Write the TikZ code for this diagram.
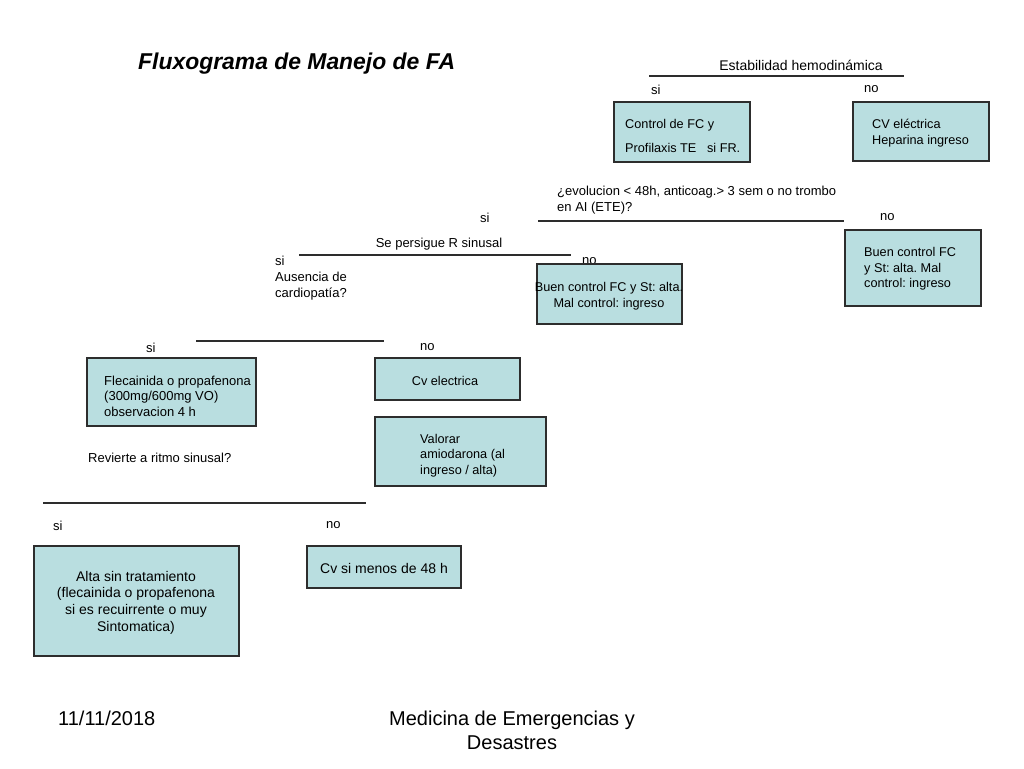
\documentclass[tikz,border=0pt]{standalone}
\usepackage{fontspec}
\setmainfont{Liberation Sans}
\frenchspacing
\definecolor{boxfill}{RGB}{185,222,224}
\definecolor{linecol}{RGB}{45,45,45}
\tikzset{
  box/.style={draw=linecol, line width=1.2pt, fill=boxfill, inner sep=0pt},
  txt/.style={inner sep=0pt, font=\fontsize{13}{15.5}\selectfont, align=left},
  stxt/.style={inner sep=0pt, font=\fontsize{12.7}{15.5}\selectfont, align=left},
  ctxt/.style={inner sep=0pt, font=\fontsize{14}{16.7}\selectfont, align=center},
  rule/.style={draw=linecol, line width=1.2pt},
  foot/.style={inner sep=0pt, font=\fontsize{20}{24}\selectfont, align=center}
}
\begin{document}
\begin{tikzpicture}[x=1pt,y=-1pt]
\useasboundingbox (0,0) rectangle (1024,768);
\fill[white] (0,0) rectangle (1024,768);

% title
\node[inner sep=0pt, anchor=west, font=\fontsize{22.9}{27}\selectfont\bfseries\itshape] (title) at (138,63.5) {Fluxograma de Manejo de FA};

% level 1
\node[txt, font=\fontsize{14}{16}\selectfont] (q1) at (801,65.5) {Estabilidad hemodinámica};
\coordinate (r1a) at (649,76); \coordinate (r1b) at (904,76);
\draw[rule] (r1a) -- (r1b);
\node[txt, anchor=west] (si1) at (651,89.5) {si};
\node[txt, anchor=west] (no1) at (864,89.5) {no};
\node[box, minimum width=136, minimum height=60] (b1) at (682,132) {};
\node[stxt, anchor=west] (b1t) at (625,125) {Control de FC y};
\node[stxt, anchor=west] (b1u) at (625,148) {Profilaxis TE\ \ \ si FR.};
\node[box, minimum width=136, minimum height=59] (b2) at (921,131.5) {};
\node[stxt, anchor=west] (b2t) at (872,133) {CV eléctrica\\Heparina ingreso};

% level 2
\node[txt, anchor=west] (q2) at (557,200) {¿evolucion < 48h, anticoag.> 3 sem o no trombo\\en AI (ETE)?};
\coordinate (r2a) at (538,221); \coordinate (r2b) at (844,221);
\draw[rule] (r2a) -- (r2b);
\node[txt, anchor=west] (si2) at (480,217.5) {si};
\node[txt, anchor=west] (no2) at (880,217.5) {no};
\node[box, minimum width=136, minimum height=76] (b3) at (913,268) {};
\node[stxt, anchor=west] (b3t) at (864,269) {Buen control FC\\y St: alta. Mal\\control: ingreso};

% level 3
\node[txt] (q3) at (439,244) {Se persigue R sinusal};
\coordinate (r3a) at (299,255); \coordinate (r3b) at (571,255);
\draw[rule] (r3a) -- (r3b);
\node[txt, anchor=west] (si3) at (275,260.5) {si};
\node[txt, anchor=west] (no3) at (582,261.5) {no};
\node[txt, anchor=west] (q4) at (275,286) {Ausencia de\\cardiopatía?};
\node[box, minimum width=145, minimum height=60] (b4) at (609.5,294) {};
\node[stxt, align=center] (b4t) at (609,296) {Buen control FC y St: alta.\\Mal control: ingreso};

% level 4
\coordinate (r4a) at (196,341); \coordinate (r4b) at (384,341);
\draw[rule] (r4a) -- (r4b);
\node[txt, anchor=west] (si4) at (146,347.5) {si};
\node[txt, anchor=west] (no4) at (420,347.5) {no};
\node[box, minimum width=169, minimum height=68] (b5) at (171.5,392) {};
\node[txt, anchor=west] (b5t) at (104,396) {Flecainida o propafenona\\(300mg/600mg VO)\\observacion 4 h};
\node[box, minimum width=145, minimum height=42] (b6) at (447.5,379) {};
\node[stxt] (b6t) at (445,380.5) {Cv electrica};
\node[box, minimum width=171, minimum height=69] (b7) at (460.5,451.5) {};
\node[stxt, anchor=west] (b7t) at (420,455.5) {Valorar\\amiodarona (al\\ingreso / alta)};
\node[txt, anchor=west] (q5) at (88,457.5) {Revierte a ritmo sinusal?};

% level 5
\coordinate (r5a) at (43,503); \coordinate (r5b) at (366,503);
\draw[rule] (r5a) -- (r5b);
\node[txt, anchor=west] (si5) at (53,525.5) {si};
\node[txt, anchor=west] (no5) at (326,525.5) {no};
\node[box, minimum width=205, minimum height=110] (b8) at (136.5,601) {};
\node[ctxt] (b8t) at (136,602.5) {Alta sin tratamiento\\(flecainida o propafenona\\si es recuirrente o muy\\Sintomatica)};
\node[box, minimum width=154, minimum height=42] (b9) at (384,567) {};
\node[ctxt] (b9t) at (384,568) {Cv si menos de 48 h};

% footer
\node[foot, anchor=west] (date) at (58,718.5) {11/11/2018};
\node[foot] (org) at (512,730.5) {Medicina de Emergencias y\\Desastres};
\end{tikzpicture}
\end{document}
